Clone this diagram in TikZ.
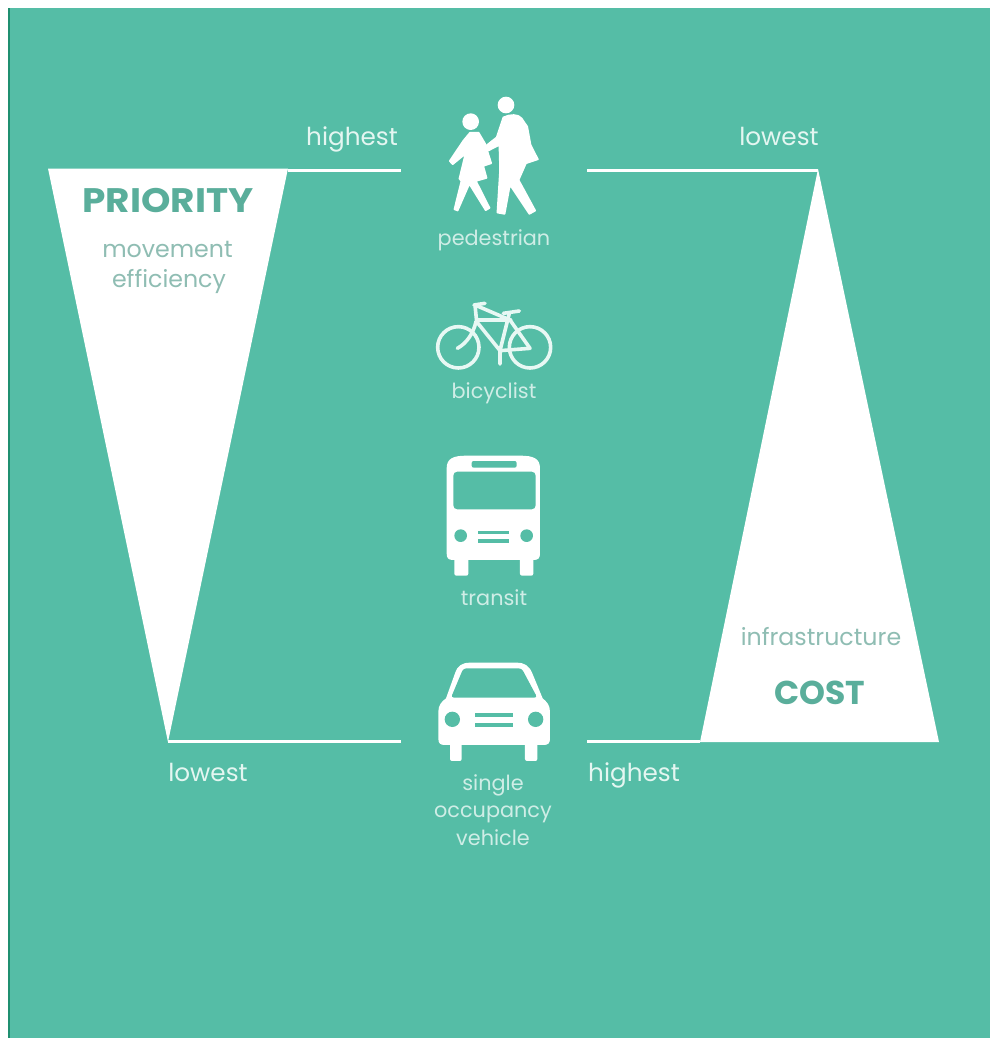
\documentclass[tikz,border=0pt]{standalone}
\usepackage{fontspec}
\setmainfont{Poppins}
\newfontfamily\headfont[FakeStretch=1.1]{Poppins}
\definecolor{bg}{HTML}{55BDA6}
\definecolor{edgeline}{HTML}{1F8F70}
\definecolor{tealtext}{HTML}{5AAE9B}
\definecolor{tealsoft}{HTML}{8FBDB3}
\definecolor{softwhite}{HTML}{E4F6F1}
\definecolor{paleicon}{HTML}{E8F8F4}
\tikzset{
  rank/.style={anchor=base,inner sep=0pt,text=softwhite,font=\fontsize{24.7}{28}\selectfont},
  mode/.style={anchor=base,inner sep=0pt,text=softwhite!85!bg,font=\fontsize{20.8}{24}\selectfont},
  head/.style={anchor=base,inner sep=0pt,text=tealtext,font=\headfont\fontsize{34}{38}\selectfont\bfseries},
  headb/.style={anchor=base,inner sep=0pt,text=tealtext,font=\fontsize{33}{37}\selectfont\bfseries},
  sub/.style={anchor=base,inner sep=0pt,text=tealsoft,font=\fontsize{23.7}{27}\selectfont},
  rule/.style={draw=white,line width=3pt},
  icon/.style={shift={#1},x=0.3333pt,y=-0.3333pt},
  hole/.style={fill=bg,draw=none},
  spoke/.style={draw=paleicon,line width=3.6pt,line cap=round,line join=round,fill=none},
  figure/.style={fill=white,draw=white,line width=1.5pt,line join=round},
}
\begin{document}
\begin{tikzpicture}[x=1pt,y=-1pt]
\useasboundingbox (0,0) rectangle (990,1038);
\fill[white] (0,0) rectangle (990,1038);
\fill[bg] (8,8) rectangle (990,1038);
\fill[edgeline] (8,8) rectangle (10,1038);
% triangles
\coordinate (pl) at (48,168.5);
\coordinate (pr) at (288,168.5);
\coordinate (pb) at (168,742);
\coordinate (ct) at (818,169);
\coordinate (cl) at (700,742);
\coordinate (cr) at (939,742);
\fill[white] (pl) -- (pr) -- (pb) -- cycle;
\fill[white] (ct) -- (cr) -- (cl) -- cycle;
% connectors
\coordinate (a1) at (401,170);
\coordinate (a2) at (401,741.5);
\coordinate (b1) at (587,170);
\coordinate (b2) at (587,741);
\draw[rule] (288,170) -- (a1);
\draw[rule] (pb |- a2) -- (a2);
\draw[rule] (b1) -- (ct |- b1);
\draw[rule] (b2) -- (cl |- b2);
% texts
\node[rank] (hi1) at (352,146) {highest};
\node[rank] (lo1) at (779,146) {lowest};
\node[rank] (lo2) at (208,781) {lowest};
\node[rank] (hi2) at (634,781) {highest};
\node[head] (prio) at (168,212) {PRIORITY};
\node[sub] (mov) at (167.5,257) {movement};
\node[sub] (eff) at (169,287) {efficiency};
\node[sub] (inf) at (821,645) {infrastructure};
\node[headb] (cost) at (820,704) {COST};
\node[mode] (ped) at (494,245) {pedestrian};
\node[mode] (bik) at (494,398) {bicyclist};
\node[mode] (tra) at (494,605) {transit};
\node[mode] (sin) at (493,790) {single};
\node[mode] (occ) at (493,817) {occupancy};
\node[mode] (veh) at (493,845) {vehicle};
% pedestrian icon
\begin{scope}[icon={(420,80)}]
\fill[white] (258,75) circle (25);
\fill[white] (152,125) circle (25);
\path[figure] (250,112) .. controls (270,102) and (295,102) .. (305,115) -- (322,140) -- (332,195) -- (354,238) -- (318,250) -- (296,300) -- (346,392) -- (328,402) -- (270,315) -- (254,402) -- (232,398) -- (240,270) -- (238,195) -- (205,212) -- (197,198) -- (230,172) -- cycle;
\path[figure] (150,158) -- (176,158) -- (195,190) -- (214,250) -- (190,258) -- (200,294) -- (168,303) -- (209,384) -- (197,391) -- (148,312) -- (113,392) -- (103,388) -- (124,303) -- (118,296) -- (136,222) -- (98,253) -- (89,243) -- (130,182) -- cycle;
\end{scope}
% bicycle icon
\begin{scope}[icon={(420,290)}]
\draw[spoke] (115,172) circle (62);
\draw[spoke] (330,172) circle (62);
\draw[spoke] (162,45) -- (195,40);
\draw[spoke] (165,45) -- (170,95) -- (240,182) -- (330,175) -- (270,90) -- cycle;
\draw[spoke] (170,90) -- (272,90);
\draw[spoke] (168,95) .. controls (160,130) and (140,160) .. (112,175);
\draw[spoke] (250,70) -- (298,63);
\draw[spoke] (268,70) -- (240,182) -- (240,222);
\end{scope}
% bus icon
\begin{scope}[icon={(420,445)}]
\fill[white] (80,70) .. controls (80,40) and (100,32) .. (140,32) -- (300,32) .. controls (340,32) and (360,40) .. (360,70) -- (360,325) .. controls (360,340) and (355,345) .. (340,345) -- (100,345) .. controls (85,345) and (80,340) .. (80,325) -- cycle;
\fill[white,rounded corners=2pt] (103,320) -- (103,392) -- (145,392) -- (145,320) -- cycle;
\fill[white,rounded corners=2pt] (300,320) -- (300,392) -- (340,392) -- (340,320) -- cycle;
\fill[hole,rounded corners=2pt] (155,48) rectangle (290,68);
\fill[hole,rounded corners=4pt] (100,80) rectangle (347,193);
\fill[hole] (122,272) circle (19);
\fill[hole] (320,272) circle (19);
\fill[hole] (175,258) rectangle (268,268);
\fill[hole] (175,283) rectangle (268,293);
\end{scope}
% car icon
\begin{scope}[icon={(420,650)}]
\fill[white] (55,265) -- (55,185) .. controls (55,165) and (65,155) .. (78,145) -- (105,70) .. controls (112,48) and (125,38) .. (150,38) -- (290,38) .. controls (315,38) and (328,48) .. (337,70) -- (368,145) .. controls (380,155) and (390,165) .. (390,185) -- (390,265) .. controls (390,280) and (385,285) .. (370,285) -- (75,285) .. controls (60,285) and (55,280) .. (55,265) -- cycle;
\fill[white,rounded corners=2pt] (90,270) -- (90,333) -- (125,333) -- (125,270) -- cycle;
\fill[white,rounded corners=2pt] (315,270) -- (315,333) -- (352,333) -- (352,270) -- cycle;
\fill[hole,rounded corners=3pt] (93,143) -- (130,55) -- (305,55) -- (352,143) -- cycle;
\fill[hole] (97,208) circle (23);
\fill[hole] (347,208) circle (23);
\fill[hole] (165,190) rectangle (280,202);
\fill[hole] (165,218) rectangle (280,230);
\end{scope}
\end{tikzpicture}
\end{document}
